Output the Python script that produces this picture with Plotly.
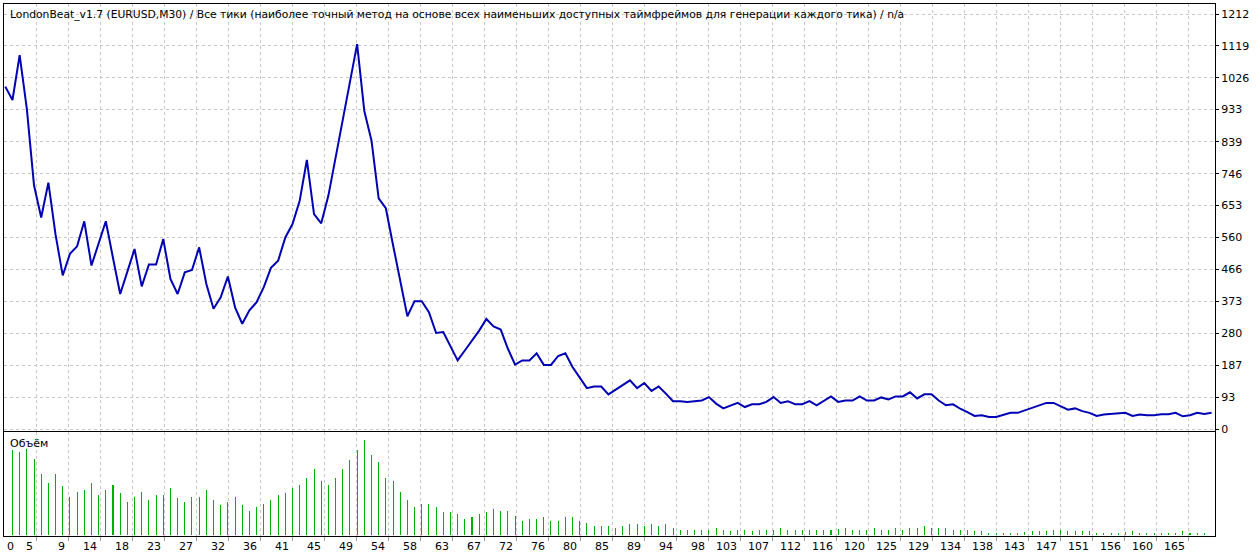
import plotly.graph_objects as go

# ---------------- data ----------------
balance = [1000, 961, 1092, 935, 712, 618, 720, 568, 449, 512,
           534, 607, 478, 542, 607, 500, 395, 460, 526, 417,
           481, 481, 555, 439, 395, 458, 465, 531, 424, 352,
           385, 446, 356, 308, 347, 371, 415, 471, 492, 560,
           599, 667, 786, 628, 601, 682, 790, 900, 1010, 1124,
           929, 843, 674, 645, 538, 432, 330, 374, 374, 342,
           281, 284, 240, 201, 230, 259, 288, 322, 300, 291,
           235, 189, 201, 201, 222, 188, 188, 214, 222, 182,
           152, 120, 125, 125, 102, 116, 130, 143, 120, 135,
           112, 125, 104, 82, 82, 80, 82, 84, 94, 75,
           61, 70, 77, 65, 73, 73, 80, 94, 77, 82,
           73, 73, 82, 70, 84, 96, 80, 84, 84, 96,
           84, 84, 93, 87, 96, 96, 108, 90, 102, 102,
           84, 70, 73, 60, 50, 39, 41, 36, 36, 41,
           48, 48, 55, 63, 70, 77, 77, 67, 57, 61,
           53, 48, 39, 43, 45, 45, 48, 39, 43, 41,
           41, 44, 44, 48, 38, 41, 48, 45, 48]

volume = [0.85, 0.83, 0.86, 0.76, 0.61, 0.52, 0.61, 0.49, 0.38, 0.43,
          0.45, 0.52, 0.40, 0.45, 0.50, 0.42, 0.33, 0.38, 0.43, 0.35,
          0.40, 0.40, 0.47, 0.37, 0.33, 0.38, 0.38, 0.45, 0.35, 0.30,
          0.33, 0.38, 0.30, 0.24, 0.28, 0.31, 0.35, 0.40, 0.42, 0.47,
          0.50, 0.57, 0.66, 0.54, 0.50, 0.57, 0.66, 0.75, 0.85, 0.95,
          0.80, 0.73, 0.57, 0.54, 0.43, 0.35, 0.28,
          0.31, 0.31, 0.28, 0.23, 0.23, 0.21, 0.16, 0.18, 0.21, 0.23,
          0.26, 0.24, 0.24, 0.19, 0.14, 0.16, 0.16, 0.18, 0.14, 0.14,
          0.18, 0.18, 0.14, 0.12, 0.09, 0.09, 0.09, 0.07, 0.09, 0.11,
          0.11, 0.09, 0.11, 0.09, 0.11, 0.07, 0.05, 0.05, 0.05, 0.05,
          0.05, 0.07, 0.05, 0.04, 0.05, 0.05, 0.04, 0.05, 0.05, 0.05,
          0.07, 0.05, 0.05, 0.05, 0.05, 0.05,
          0.05, 0.05, 0.06, 0.07, 0.05, 0.05, 0.05, 0.07, 0.05, 0.05,
          0.07, 0.05, 0.07, 0.07, 0.09, 0.07, 0.07, 0.07, 0.05, 0.05,
          0.05, 0.04, 0.04, 0.02, 0.02, 0.02, 0.02, 0.02, 0.03, 0.04,
          0.04, 0.04, 0.05, 0.05, 0.04, 0.04, 0.04, 0.04, 0.02, 0.02,
          0.02, 0.02, 0.03, 0.04, 0.02, 0.02, 0.02, 0.02, 0.02, 0.02,
          0.04, 0.02, 0.02, 0.02]

x_tick_labels = [5, 9, 14, 18, 23, 27, 32, 36, 41, 45, 49, 54, 58, 63, 67, 72,
                 76, 80, 85, 89, 94, 98, 103, 107, 112, 116, 120, 125, 129,
                 134, 138, 143, 147, 151, 156, 160, 165]
y_tick_labels = [0, 93, 187, 280, 373, 466, 560, 653, 746, 839, 933, 1026, 1119, 1212]

title_text = ("LondonBeat_v1.7 (EURUSD,M30) / Все тики (наиболее точный метод на основе "
              "всех наименьших доступных таймфреймов для генерации каждого тика) / n/a")
volume_label = "Объём"

# ---------------- layout geometry ----------------
W, H = 1260, 553
ML, MR, MT, MB = 4, 45, 4, 17
plot_w = W - ML - MR
plot_h = H - MT - MB
px_per_idx = 7.18
x0_off = 1.3
x_range = [-x0_off / px_per_idx, (plot_w - x0_off) / px_per_idx]
grid_x = [(32 * (k + 1) - x0_off) / px_per_idx for k in range(len(x_tick_labels))]

main_bottom_px = 426.5   # relative to plot top
vol_top_px = 428.0
y_scale = 0.34266
y0_px = 425.3
main_range = [-(main_bottom_px - y0_px) / y_scale, y0_px / y_scale]
main_domain = [(plot_h - main_bottom_px) / plot_h, 1]
vol_domain = [0, (plot_h - vol_top_px) / plot_h]

FONT = "DejaVu Sans"
grid_color = "#c8c8c8"
line_color = "#0000b4"
bar_color = "#00b000"

idx = list(range(len(balance)))
vol_idx = list(range(1, len(volume) + 1))

fig = go.Figure()
fig.add_trace(go.Scatter(x=idx, y=balance, mode="lines",
                         line=dict(color=line_color, width=2),
                         xaxis="x", yaxis="y", hoverinfo="skip"))
fig.add_trace(go.Bar(x=vol_idx, y=volume, width=0.004,
                     marker=dict(color=bar_color, line=dict(width=0)),
                     xaxis="x2", yaxis="y2", hoverinfo="skip"))

common_x = dict(range=x_range, tickvals=grid_x, showticklabels=False,
                showgrid=True, gridcolor=grid_color, griddash="3px,3px", gridwidth=1,
                showline=True, linecolor="black", linewidth=1, mirror=True,
                zeroline=False, fixedrange=True)

fig.update_layout(
    width=W, height=H,
    margin=dict(l=ML, r=MR, t=MT, b=MB, pad=0),
    paper_bgcolor="white", plot_bgcolor="white",
    showlegend=False,
    bargap=0,
    font=dict(family=FONT, size=11, color="black"),
    xaxis=dict(anchor="y", ticks="", **common_x),
    xaxis2=dict(anchor="y2", matches="x", ticks="outside", ticklen=4,
                tickcolor="#a0a0a0", **common_x),
    yaxis=dict(domain=main_domain, range=main_range, side="right",
               tickvals=y_tick_labels, ticktext=[str(v) for v in y_tick_labels],
               ticks="outside", ticklen=3, tickcolor="black",
               showgrid=True, gridcolor=grid_color, griddash="3px,3px", gridwidth=1,
               showline=True, linecolor="black", linewidth=1, mirror=True,
               zeroline=False, tickfont=dict(family=FONT, size=11, color="black"),
               fixedrange=True),
    yaxis2=dict(domain=vol_domain, range=[-0.01, 1.03], side="right",
                showticklabels=False, ticks="", showgrid=False,
                showline=True, linecolor="black", linewidth=1, mirror=True,
                zeroline=False, fixedrange=True),
)

annotations = [
    dict(text=title_text, xref="paper", yref="paper", x=4 / plot_w,
         y=(plot_h - 11) / plot_h, xanchor="left", yanchor="middle",
         showarrow=False, font=dict(family=FONT, size=10.75, color="black")),
    dict(text=volume_label, xref="paper", yref="paper", x=4 / plot_w,
         y=(plot_h - 439) / plot_h, xanchor="left", yanchor="middle",
         showarrow=False, font=dict(family=FONT, size=11, color="black")),
    dict(text="0", xref="x2", yref="paper", x=0, y=-10 / plot_h,
         xanchor="left", yanchor="middle", showarrow=False,
         font=dict(family=FONT, size=11, color="black")),
]
for gx, lab in zip(grid_x, x_tick_labels):
    annotations.append(dict(text=str(lab), xref="x2", yref="paper", x=gx,
                            y=-10 / plot_h, xanchor="right", yanchor="middle",
                            xshift=-1, showarrow=False,
                            font=dict(family=FONT, size=11, color="black")))
fig.update_layout(annotations=annotations)

fig.write_html("out.html", config={"displayModeBar": False})
